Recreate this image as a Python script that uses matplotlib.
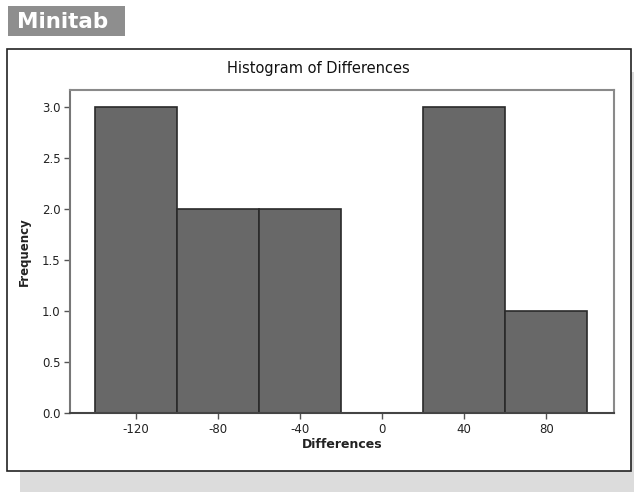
import matplotlib
matplotlib.use("Agg")
import matplotlib.pyplot as plt
from matplotlib.patches import Rectangle

# Data
bin_centers = [-120, -80, -40, 0, 40, 80]
counts = [3, 2, 2, 0, 3, 1]
bin_width = 40
xtick_values = [-120, -80, -40, 0, 40, 80]
xtick_labels = ["-120", "-80", "-40", "0", "40", "80"]
ytick_values = [0.0, 0.5, 1.0, 1.5, 2.0, 2.5, 3.0]
ytick_labels = ["0.0", "0.5", "1.0", "1.5", "2.0", "2.5", "3.0"]

W, H = 634, 492
fig = plt.figure(figsize=(W / 100, H / 100), dpi=100)
fig.patch.set_facecolor("white")

def px(x0, y0, x1, y1):
    # convert pixel box (top-left origin) to figure fraction rect
    return (x0 / W, 1 - y1 / H, (x1 - x0) / W, (y1 - y0) / H)

# shadow box
r = px(20, 72, 634, 492)
fig.patches.append(Rectangle(r[:2], r[2], r[3], transform=fig.transFigure,
                             facecolor="#dcdcdc", edgecolor="none", zorder=0))
# outer border
r = px(7, 49, 631, 471)
fig.patches.append(Rectangle(r[:2], r[2], r[3], transform=fig.transFigure,
                             facecolor="white", edgecolor="#222222", linewidth=1.2, zorder=1))
# Minitab label
r = px(8, 6, 125, 36)
fig.patches.append(Rectangle(r[:2], r[2], r[3], transform=fig.transFigure,
                             facecolor="#8e8e8e", edgecolor="none", zorder=1))
fig.text(17 / W, 1 - 22 / H, "Minitab", color="white", fontsize=15.5, fontweight="bold",
         ha="left", va="center", family="DejaVu Sans")

ax = fig.add_axes(px(70, 90, 614, 413))
ax.set_zorder(2)
ax.bar(bin_centers, counts, width=bin_width, color="#686868", edgecolor="#2a2a2a",
       linewidth=1.2, align="center")
ax.set_xlim(-152, 113)
ax.set_ylim(0, 3.17)
ax.set_xticks(xtick_values)
ax.set_xticklabels(xtick_labels)
ax.set_yticks(ytick_values)
ax.set_yticklabels(ytick_labels)
for s in ax.spines.values():
    s.set_color("#8a8a8a")
    s.set_linewidth(1.5)
ax.spines["bottom"].set_color("#444444")
ax.spines["left"].set_color("#777777")
ax.tick_params(axis="both", direction="out", length=4, width=1, colors="#555555",
               labelsize=8.5, labelcolor="#222222", pad=3)

ax.set_xlabel("Differences", fontsize=9, fontweight="bold", color="#222222", labelpad=2)
ax.set_ylabel("Frequency", fontsize=8.5, fontweight="bold", color="#222222", labelpad=8)
fig.text(318 / W, 1 - 68 / H, "Histogram of Differences", fontsize=10.5,
         ha="center", va="center", color="#111111")

fig.savefig("out.png", dpi=100, facecolor="white")
